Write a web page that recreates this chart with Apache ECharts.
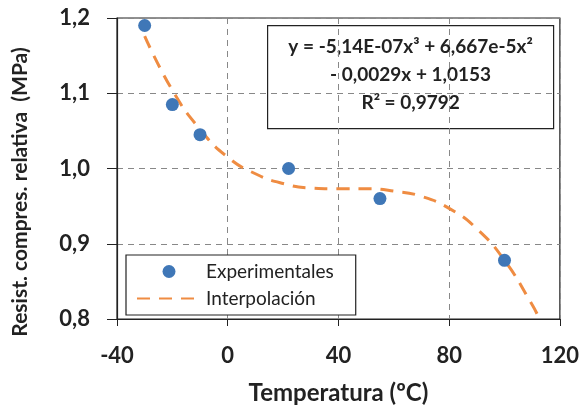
<!DOCTYPE html>
<html>
<head>
<meta charset="utf-8">
<script src="https://cdn.jsdelivr.net/npm/echarts@6/dist/echarts.min.js"></script>
<style>
  html, body { margin: 0; padding: 0; background: #fff; }
  #chart { width: 582px; height: 410px; }
</style>
</head>
<body>
<div id="chart"></div>
<script>
// datos experimentales
var tempExp = [-30, -20, -10, 22, 55, 100];
var resistExp = [1.19, 1.085, 1.045, 1.0, 0.96, 0.878];

// curva de interpolacion
var tempCurva = [-30, -20, -10, 0, 10, 20, 30, 40, 50, 60, 70, 80, 90, 100, 110, 112];
var resistCurva = [1.176, 1.104, 1.052, 1.015, 0.993, 0.980, 0.974, 0.973, 0.973, 0.970, 0.963, 0.947, 0.920, 0.878, 0.819, 0.805];

var ecuacion = ['y = -5,14E-07x³ + 6,667e-5x²', '- 0,0029x + 1,0153', 'R² = 0,9792'];

var fuente = 'Lato, "Open Sans", sans-serif';
var azul = '#3f77b7';
var naranja = '#ef8c42';

function coma(v) { return v.toFixed(1).replace('.', ','); }

var myChart = echarts.init(document.getElementById('chart'));
var option = {
	animation: false,
	textStyle: { fontFamily: fuente },
	grid: { left: 117, right: 21, top: 18, bottom: 90, show: true, borderColor: '#222', borderWidth: 1.2 },
	xAxis: {
		type: 'value', min: -40, max: 120, interval: 40,
		name: 'Temperatura (ºC)', nameLocation: 'middle', nameGap: 62,
		nameTextStyle: { fontSize: 24, fontWeight: 'bold', color: '#222', fontFamily: fuente },
		axisLine: { onZero: false, lineStyle: { color: '#222', width: 1.2 } },
		axisTick: { show: true, length: 7, lineStyle: { color: '#222' } },
		axisLabel: { fontSize: 22, fontWeight: 'bold', color: '#222', margin: 26, fontFamily: fuente },
		splitLine: { lineStyle: { type: [6, 5], color: '#888' } }
	},
	yAxis: {
		type: 'value', min: 0.8, max: 1.2, interval: 0.1,
		axisLine: { onZero: false, lineStyle: { color: '#222', width: 1.2 } },
		axisTick: { show: true, length: 10, lineStyle: { color: '#222' } },
		axisLabel: { fontSize: 22, fontWeight: 'bold', color: '#222', margin: 27, formatter: coma, fontFamily: fuente },
		splitLine: { lineStyle: { type: [6, 5], color: '#888' } }
	},
	legend: {
		orient: 'vertical', left: 126, top: 255,
		backgroundColor: '#fff', borderColor: '#222', borderWidth: 1.2,
		padding: [7, 22, 7, 10], itemGap: 8, itemWidth: 64, itemHeight: 13,
		textStyle: { fontSize: 19, color: '#222', fontFamily: fuente },
		data: [
			{ name: 'Experimentales', icon: 'circle' },
			{ name: 'Interpolación', itemStyle: { opacity: 0 } }
		]
	},
	graphic: [
		{
			type: 'text', x: 20, y: 192, rotation: Math.PI / 2,
			style: { text: 'Resist. compres. relativa  (MPa)', fontSize: 21, fontWeight: 'bold', fill: '#222',
			         fontFamily: fuente, align: 'center', verticalAlign: 'middle' }
		},
		{
			type: 'group', left: 267, top: 25,
			children: [
				{ type: 'rect', shape: { x: 0, y: 0, width: 286, height: 103 },
				  style: { fill: '#fff', stroke: '#222', lineWidth: 1.2 } },
				{ type: 'text', x: 143, y: 49,
				  style: { text: ecuacion.join('\n'), fontSize: 19, fontWeight: 'bold', fill: '#222',
				           fontFamily: fuente, align: 'center', verticalAlign: 'middle', lineHeight: 28 } }
			]
		}
	],
	series: [
		{
			name: 'Interpolación', type: 'line', smooth: true, showSymbol: false, symbol: 'none',
			data: tempCurva.map(function (t, i) { return [t, resistCurva[i]]; }),
			lineStyle: { color: naranja, width: 3, type: [13, 9] },
			itemStyle: { color: naranja },
			z: 2
		},
		{
			name: 'Experimentales', type: 'scatter', symbolSize: 13,
			data: tempExp.map(function (t, i) { return [t, resistExp[i]]; }),
			itemStyle: { color: azul, opacity: 1 },
			z: 3
		}
	]
};
myChart.setOption(option);
</script>
</body>
</html>
